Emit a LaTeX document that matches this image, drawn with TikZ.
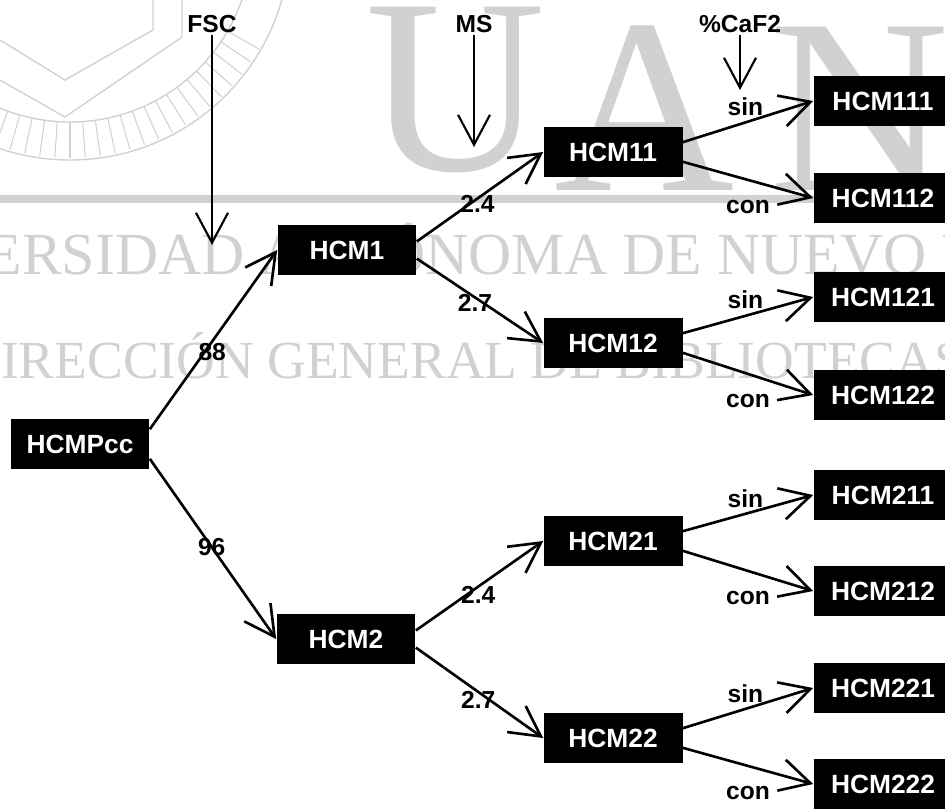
\documentclass[tikz,border=0pt]{standalone}
\usepackage{fontspec}
\setmainfont{Liberation Sans}
\newfontfamily\wmfont{Liberation Serif}
\usetikzlibrary{arrows.meta}

\begin{document}
\begin{tikzpicture}[x=0.02cm,y=-0.02cm,
  >={Straight Barb[length=0.6cm,width=0.64cm]},
  flow/.style={->,line width=1.5pt},
  vflow/.style={->,line width=1.2pt},
  box/.style={fill=black,text=white,font=\fontsize{15}{18}\selectfont\bfseries,
    minimum width=2.78cm,minimum height=1cm,inner sep=0pt},
  lbl/.style={font=\fontsize{14}{16}\selectfont\bfseries,inner sep=1pt},
  wm/.style={black!18}]
\useasboundingbox (0,0) rectangle (945,809);
% watermark
\begin{scope}
\clip (0,0) rectangle (945,809);
\node[wm,font=\wmfont\fontsize{142}{150}\selectfont,anchor=base,inner sep=0pt] (wmU) at (456,170) {U};
\node[wm,font=\wmfont\fontsize{142}{150}\selectfont,anchor=base,inner sep=0pt] (wmA) at (645,190) {A};
\node[wm,font=\wmfont\fontsize{142}{150}\selectfont,anchor=base,inner sep=0pt] (wmN) at (860,190) {N};
\draw[wm,line width=0.8pt] (70,-60) circle (220);
\draw[wm,line width=0.8pt] (70,-60) circle (182);
\foreach \a in {30,34,...,150}
  \draw[wm,line width=0.6pt,shift={(70,-60)}] (\a:182) -- (\a:218);
\draw[wm,line width=0.8pt] (0,40) -- (65,80) -- (153,30) -- (153,0);
\draw[wm,line width=0.8pt] (0,80) -- (65,117) -- (182,37) -- (182,0);
\fill[wm] (0,195) rectangle (945,203);
\node[wm,font=\wmfont\fontsize{34}{40}\selectfont,anchor=base west,inner sep=0pt] (wmRowA) at (-164,274) {UNIVERSIDAD AUTÓNOMA DE NUEVO LEÓN};
\node[wm,font=\wmfont\fontsize{30.5}{36}\selectfont,anchor=base west,inner sep=0pt] (wmRowB) at (-38,378) {DIRECCIÓN GENERAL DE BIBLIOTECAS};
\end{scope}

% boxes
\node[box] (root) at (80,444) {HCMPcc};
\node[box] (hcm1) at (347,250) {HCM1};
\node[box] (hcm2) at (346,639) {HCM2};
\node[box] (hcm11) at (613,152) {HCM11};
\node[box] (hcm12) at (613,343) {HCM12};
\node[box] (hcm21) at (613,541) {HCM21};
\node[box] (hcm22) at (613,738) {HCM22};
\node[box] (hcm111) at (883,101) {HCM111};
\node[box] (hcm112) at (883,198) {HCM112};
\node[box] (hcm121) at (883,297) {HCM121};
\node[box] (hcm122) at (883,395) {HCM122};
\node[box] (hcm211) at (883,495) {HCM211};
\node[box] (hcm212) at (883,591) {HCM212};
\node[box] (hcm221) at (883,688) {HCM221};
\node[box] (hcm222) at (883,784) {HCM222};

% factors
\node[lbl] (fsc) at (212,24) {FSC};
\node[lbl] (ms) at (474,24) {MS};
\node[lbl] (caf) at (740,24) {\%CaF2};
\coordinate (fscTip) at (212,245);
\coordinate (msTip) at (474,147);
\coordinate (cafTip) at (740,90);
\draw[vflow] (fsc) -- (fscTip);
\draw[vflow] (ms) -- (msTip);
\draw[vflow] (caf) -- (cafTip);

% branches
\draw[flow] (root.12) -- node[lbl,pos=.49,yshift=-6pt] {88} (hcm1.west);
\draw[flow] (root.-12) -- node[lbl,pos=.49] {96} (hcm2.west);
\draw[flow] (hcm1.7) -- node[lbl,pos=.48,yshift=-3pt] {2.4} (hcm11.west);
\draw[flow] (hcm1.-7) -- node[lbl,pos=.46,yshift=-3pt] {2.7} (hcm12.west);
\draw[flow] (hcm2.7) -- node[lbl,pos=.49,yshift=-5pt] {2.4} (hcm21.west);
\draw[flow] (hcm2.-7) -- node[lbl,pos=.49,yshift=-4.5pt] {2.7} (hcm22.west);
\foreach \p/\a/\b in {hcm11/hcm111/hcm112,hcm12/hcm121/hcm122,hcm21/hcm211/hcm212,hcm22/hcm221/hcm222}{
  \draw[flow] (\p.8) -- node[lbl,pos=.48,above=2pt] {sin} (\a.west);
  \draw[flow] (\p.-8) -- node[lbl,pos=.5,below=10pt] {con} (\b.west);
}
\end{tikzpicture}
\end{document}
